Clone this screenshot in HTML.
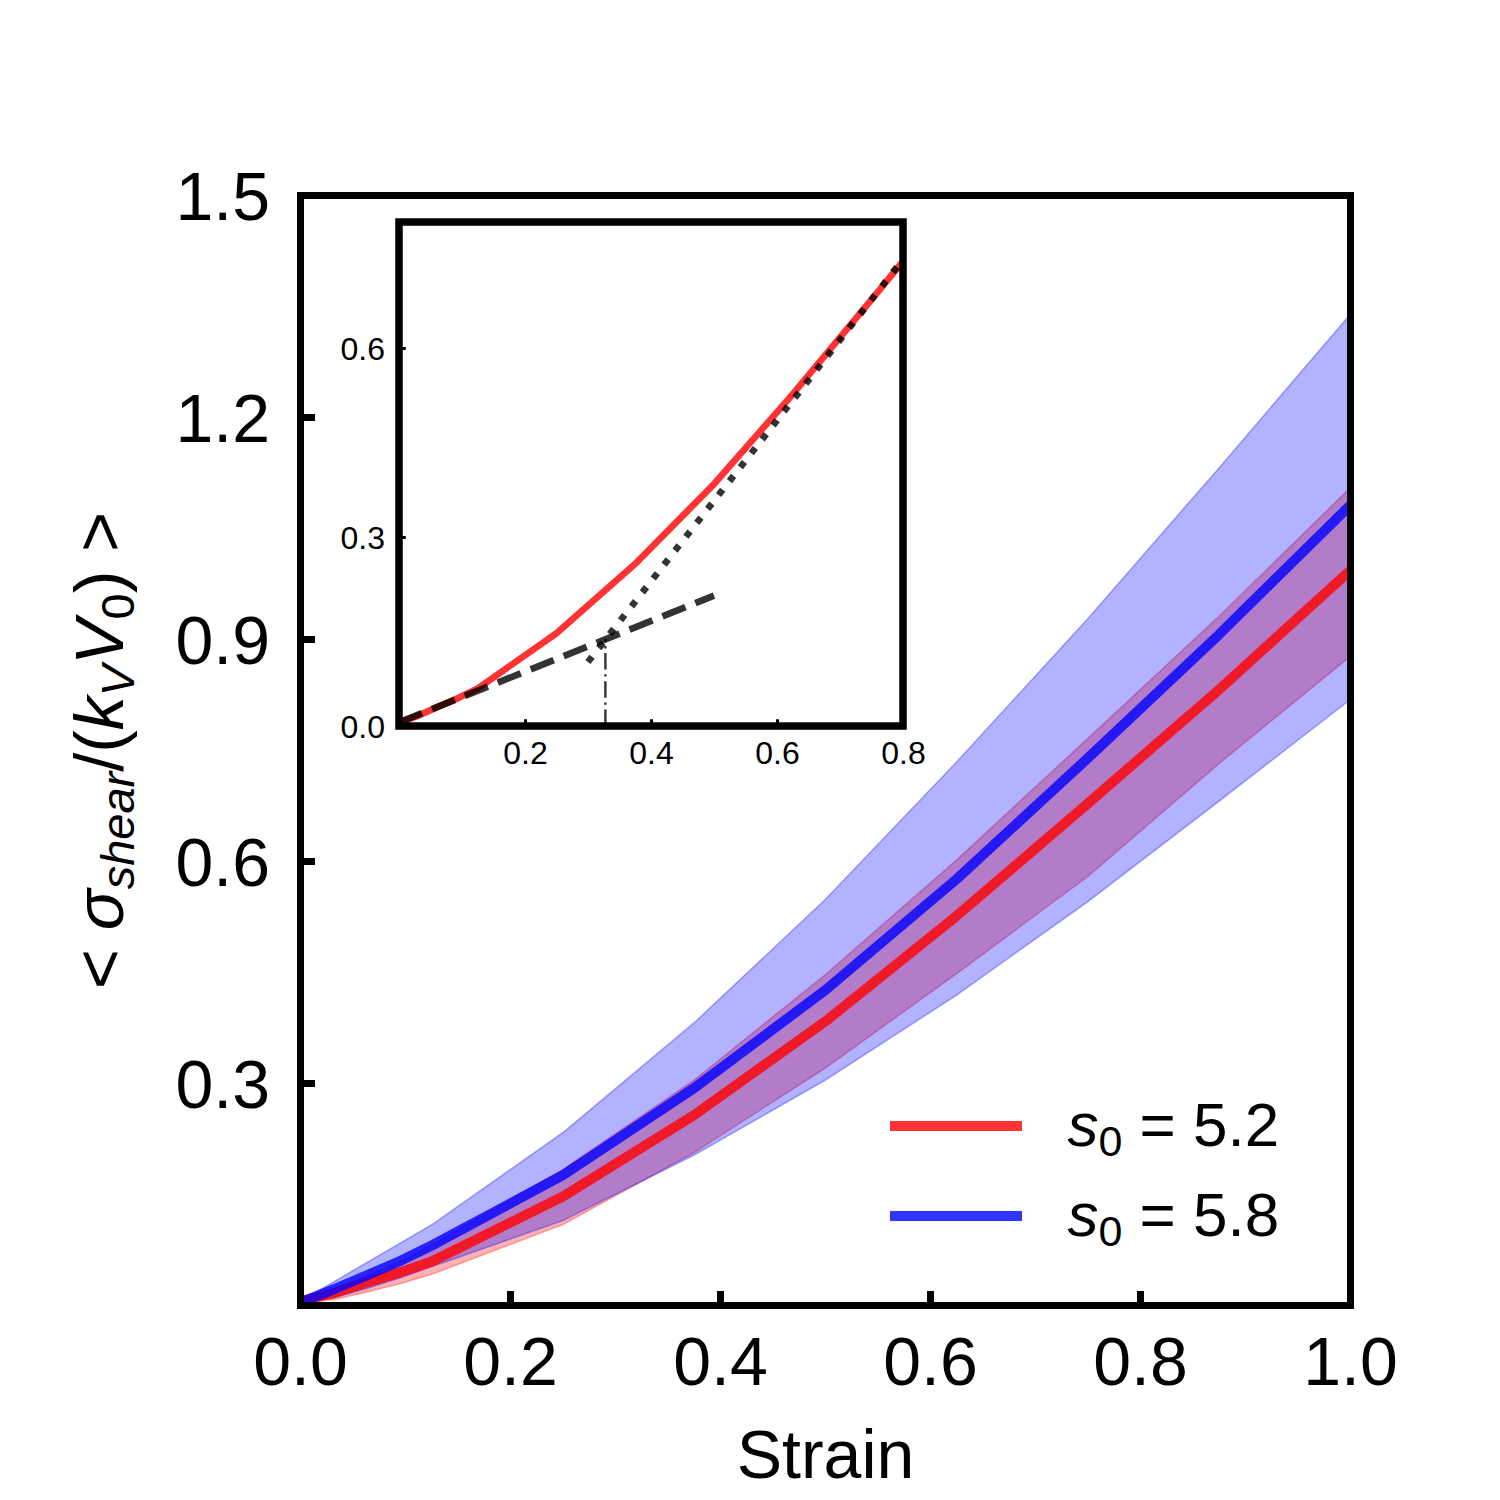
<!DOCTYPE html>
<html><head><meta charset="utf-8"><title>Stress-strain</title>
<style>html,body{margin:0;padding:0;width:1500px;height:1500px;overflow:hidden;background:#fff;font-family:"Liberation Sans",sans-serif}svg{display:block}</style>
</head><body>
<svg width="1500" height="1500" viewBox="0 0 1500 1500">
<defs>
<clipPath id="cm"><rect x="300.5" y="195.5" width="1050.0" height="1110.0"/></clipPath>
<clipPath id="ci"><rect x="399.0" y="222.0" width="504.0" height="504.0"/></clipPath>
</defs>
<rect width="1500" height="1500" fill="#fff"/>
<g clip-path="url(#cm)">
<polygon points="300.5,1301.2 366.1,1276.3 400,1261.5 431.75,1245 563,1169.5 694.25,1080 825.5,974.5 956.75,859.8 1088,738.3 1219.25,616 1350.5,487.6 1350.5,656.2 1219.25,763.4 1088,876.3 956.75,973.5 825.5,1068 694.25,1152.5 563,1224.5 431.75,1274.3 400,1283.7 366.1,1292.2 333.3,1299.8 300.5,1301.2" fill="#f00" fill-opacity="0.3" stroke="#f00" stroke-opacity="0.3" stroke-width="1.6" stroke-linejoin="miter"/>
<polygon points="300.5,1301.2 431.75,1224.8 563,1132.5 694.25,1022.7 825.5,899.3 956.75,761.8 1088,618.5 1219.25,467.7 1350.5,314 1350.5,699.3 1219.25,801 1088,901.5 956.75,995 825.5,1080 694.25,1155 563,1220.5 431.75,1266.7 400,1278 366.1,1288.7 333.3,1298 300.5,1301.2" fill="#00f" fill-opacity="0.3" stroke="#00f" stroke-opacity="0.3" stroke-width="1.6" stroke-linejoin="miter"/>
<polyline points="300.5,1301.4 333.3,1293.2 366.1,1282.7 400,1272.4 431.75,1261.5 563,1196.5 694.25,1115 825.5,1021.3 956.75,915.8 1088,803.4 1219.25,689.4 1350.5,570.3" fill="none" stroke="#f00" stroke-opacity="0.8" stroke-width="10" stroke-linejoin="round" stroke-linecap="square"/>
<polyline points="300.5,1302.4 333.3,1289.5 366.1,1275.7 400,1261 431.75,1245.5 563,1175.2 694.25,1088 825.5,990 956.75,879 1088,758 1219.25,634.3 1350.5,505" fill="none" stroke="#00f" stroke-opacity="0.8" stroke-width="10" stroke-linejoin="round" stroke-linecap="square"/>
</g>
<path d="M510.5 1305.5V1291M720.5 1305.5V1291M930.5 1305.5V1291M1140.5 1305.5V1291M300.5 1083.5H315M300.5 861.5H315M300.5 639.5H315M300.5 417.5H315" stroke="#000" stroke-width="7" fill="none"/>
<rect x="300.5" y="195.5" width="1050.0" height="1110.0" fill="none" stroke="#000" stroke-width="7"/>
<g clip-path="url(#ci)">
<polyline points="399,722.509 418.68,715.528 438.36,706.589 458.7,697.82 477.75,688.541 556.5,633.203 635.25,563.818 714,484.046 792.75,394.228 871.5,299.736 950.25,203.282 1029,100.086" fill="none" stroke="#f00" stroke-opacity="0.8" stroke-width="6.67" stroke-linejoin="round" stroke-linecap="square"/>
<line x1="399" y1="722.4" x2="714" y2="595.6" stroke="#000" stroke-opacity="0.8" stroke-width="6.67" stroke-dasharray="24.8 10.7"/>
<line x1="587.9" y1="662" x2="905" y2="256.8" stroke="#000" stroke-opacity="0.8" stroke-width="6.67" stroke-dasharray="6.67 11.0"/>
<line x1="605.4" y1="726.0" x2="605.4" y2="639" stroke="#000" stroke-opacity="0.8" stroke-width="2.4" stroke-dasharray="16.6 4.6 2.4 4.6"/>
</g>
<path d="M525.5 726.0V719.2M651.5 726.0V719.2M777.5 726.0V719.2M399.0 537.5H405.8M399.0 348.5H405.8" stroke="#000" stroke-width="3" fill="none"/>
<rect x="399.0" y="222.0" width="504.0" height="504.0" fill="none" stroke="#000" stroke-width="7.5"/>
<g fill="#000" font-family="'Liberation Sans', sans-serif">
<g font-size="68" text-anchor="end">
<text x="270" y="1108.4">0.3</text>
<text x="270" y="886.4">0.6</text>
<text x="270" y="664.4">0.9</text>
<text x="270" y="442.4">1.2</text>
<text x="270" y="220.4">1.5</text>
</g>
<g font-size="68" text-anchor="middle">
<text x="300.5" y="1384.5">0.0</text>
<text x="510.5" y="1384.5">0.2</text>
<text x="720.5" y="1384.5">0.4</text>
<text x="930.5" y="1384.5">0.6</text>
<text x="1140.5" y="1384.5">0.8</text>
<text x="1350.5" y="1384.5">1.0</text>
</g>
<text x="825.5" y="1478.3" font-size="68" text-anchor="middle">Strain</text>
<text transform="translate(122.84 750.5) rotate(-90)" font-size="68" text-anchor="middle" xml:space="preserve">&lt; <tspan font-style="italic">σ</tspan><tspan font-style="italic" font-size="47" dy="11">shear</tspan><tspan dy="-11">/(</tspan><tspan font-style="italic">k</tspan><tspan font-style="italic" font-size="47" dy="11">V</tspan><tspan font-style="italic" dy="-11">V</tspan><tspan font-size="47" dy="11">0</tspan><tspan dy="-11">) &gt;</tspan></text>
<g font-size="32" text-anchor="end">
<text x="385" y="738.1">0.0</text>
<text x="385" y="549.1">0.3</text>
<text x="385" y="360.1">0.6</text>
</g>
<g font-size="32" text-anchor="middle">
<text x="525.5" y="763.9">0.2</text>
<text x="651.5" y="763.9">0.4</text>
<text x="777.5" y="763.9">0.6</text>
<text x="903.5" y="763.9">0.8</text>
</g>
<text x="1067.4" y="1146.3" font-size="62" xml:space="preserve"><tspan font-style="italic">s</tspan><tspan font-size="43" dy="10">0</tspan><tspan dy="-10"> = 5.2</tspan></text>
<text x="1067.4" y="1235.8" font-size="62" xml:space="preserve"><tspan font-style="italic">s</tspan><tspan font-size="43" dy="10">0</tspan><tspan dy="-10"> = 5.8</tspan></text>
</g>
<line x1="890" y1="1126" x2="1022" y2="1126" stroke="#f00" stroke-opacity="0.8" stroke-width="10"/>
<line x1="890" y1="1216" x2="1022" y2="1216" stroke="#00f" stroke-opacity="0.8" stroke-width="10"/>
</svg>
</body></html>
